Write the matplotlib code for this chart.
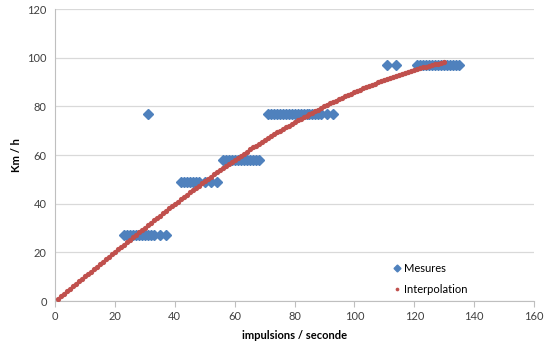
import matplotlib.pyplot as plt

# mesures (impulsions / seconde -> km/h)
mes_x = [23, 24, 25, 26, 27, 28, 29, 30, 31, 32, 33, 35, 37,
         31,
         42, 43, 44, 45, 46, 47, 48, 50, 52, 54,
         56, 57, 58, 59, 60, 61, 62, 63, 64, 65, 66, 67, 68,
         71, 72, 73, 74, 75, 76, 77, 78, 79, 80, 81, 82, 83, 84, 85, 86, 87, 88, 89, 91, 93,
         111, 114,
         121, 122, 123, 124, 125, 126, 127, 128, 129, 130, 131, 132, 133, 134, 135]
mes_y = [27] * 13 + [77] + [49] * 10 + [58] * 13 + [77] * 21 + [97] * 2 + [97] * 15

# courbe d'interpolation (x = 1 .. 130)
interp_x = list(range(1, 131))
interp_y = [1.0, 2.0, 3.0, 4.0, 5.1, 6.1, 7.1, 8.1, 9.1, 10.1,
            11.1, 12.1, 13.1, 14.1, 15.2, 16.2, 17.2, 18.2, 19.2, 20.2,
            21.2, 22.2, 23.2, 24.2, 25.2, 26.2, 27.2, 28.2, 29.2, 30.2,
            31.2, 32.2, 33.2, 34.2, 35.1, 36.1, 37.1, 38.1, 39.0, 40.0,
            40.9, 41.9, 42.8, 43.7, 44.7, 45.6, 46.5, 47.4, 48.4, 49.3,
            50.2, 51.1, 52.0, 52.9, 53.7, 54.6, 55.5, 56.4, 57.2, 58.1,
            58.9, 59.8, 60.6, 61.4, 62.3, 63.1, 63.9, 64.7, 65.5, 66.3,
            67.0, 67.8, 68.5, 69.3, 70.0, 70.7, 71.4, 72.1, 72.8, 73.5,
            74.2, 74.8, 75.5, 76.2, 76.8, 77.4, 78.1, 78.7, 79.4, 80.0,
            80.6, 81.2, 81.8, 82.4, 82.9, 83.5, 84.1, 84.7, 85.2, 85.8,
            86.3, 86.8, 87.4, 87.9, 88.4, 88.9, 89.4, 89.9, 90.3, 90.8,
            91.2, 91.6, 92.1, 92.5, 92.9, 93.3, 93.8, 94.2, 94.6, 95.0,
            95.3, 95.7, 96.0, 96.3, 96.6, 96.9, 97.3, 97.6, 97.9, 98.2]

plt.rcParams['font.family'] = ['Lato', 'DejaVu Sans']

fig = plt.figure(figsize=(5.5, 3.48), dpi=100)
ax = fig.add_axes([0.1, 0.135, 0.871, 0.839])

ax.plot(mes_x, mes_y, linestyle='none', marker='D', markersize=5,
        color='#4F81BD', label='Mesures', zorder=3)
ax.plot(interp_x, interp_y, linestyle='none', marker='o', markersize=3.8,
        color='#C0504D', markeredgewidth=0, label='Interpolation', zorder=4)

ax.set_xlim(0, 160)
ax.set_ylim(0, 120)
ax.set_xticks(range(0, 161, 20))
ax.set_yticks(range(0, 121, 20))
ax.yaxis.grid(True, color='#d9d9d9', linewidth=0.9)
ax.set_axisbelow(True)

for s in ['top', 'right']:
    ax.spines[s].set_visible(False)
for s in ['left', 'bottom']:
    ax.spines[s].set_color('#bfbfbf')
ax.tick_params(axis='y', length=0, labelsize=8, colors='#404040', pad=6)
ax.tick_params(axis='x', length=4, color='#bfbfbf', labelsize=8, labelcolor='#404040', pad=3)

ax.set_xlabel('impulsions / seconde', fontsize=8, fontweight='bold', labelpad=6)
ax.set_ylabel('Km / h', fontsize=8, fontweight='bold', labelpad=4)

ax.legend(loc='upper left', bbox_to_anchor=(0.69, 0.145), frameon=False,
          fontsize=8, handletextpad=0.1, labelspacing=0.9, handlelength=1.2,
          markerscale=0.7, borderaxespad=0)

fig.savefig('out.png', dpi=100)
